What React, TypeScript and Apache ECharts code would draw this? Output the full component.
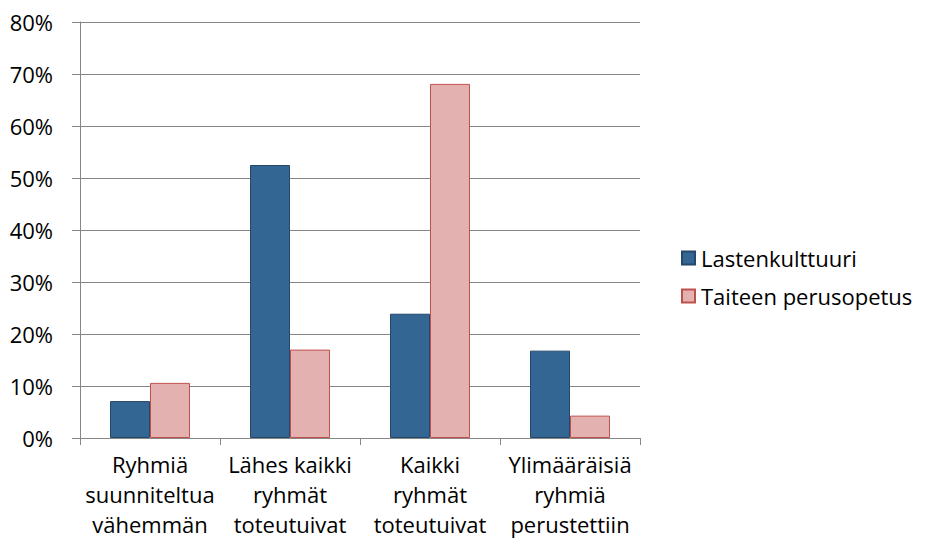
import React, { useEffect, useRef } from "react";
import * as echarts from "echarts";

const categories = [
  "Ryhmiä\nsuunniteltua\nvähemmän",
  "Lähes kaikki\nryhmät\ntoteutuivat",
  "Kaikki\nryhmät\ntoteutuivat",
  "Ylimääräisiä\nryhmiä\nperustettiin",
];
const seriesNames = ["Lastenkulttuuri", "Taiteen perusopetus"];
const lastenkulttuuri = [7.1, 52.5, 23.9, 16.8];
const taiteenPerusopetus = [10.6, 17.0, 68.1, 4.3];

const FONT = "'Open Sans', 'Noto Sans', sans-serif";
const FS = 22;

export default function App() {
  const ref = useRef<HTMLDivElement>(null);
  useEffect(() => {
    if (!ref.current) return;
    const chart = echarts.init(ref.current, undefined, { renderer: "svg" });
    chart.setOption({
      animation: false,
      backgroundColor: "#ffffff",
      textStyle: { fontFamily: FONT },
      grid: { left: 80, right: 289, top: 22, bottom: 109, containLabel: false },
      legend: {
        orient: "vertical",
        left: 676,
        top: 240,
        itemWidth: 13,
        itemHeight: 13,
        itemGap: 12,
        icon: "rect",
        textStyle: {
          fontFamily: FONT,
          fontSize: FS,
          lineHeight: 26,
          color: "#000",
          padding: [0, 0, 0, 1],
        },
        data: seriesNames,
      },
      xAxis: {
        type: "category",
        data: categories,
        axisLine: { lineStyle: { color: "#868686", width: 1 } },
        axisTick: { show: true, length: 7, lineStyle: { color: "#868686" } },
        axisLabel: {
          interval: 0,
          color: "#000",
          fontFamily: FONT,
          fontSize: FS,
          lineHeight: 30,
          margin: 11,
        },
      },
      yAxis: {
        type: "value",
        min: 0,
        max: 80,
        interval: 10,
        axisLine: { show: true, lineStyle: { color: "#868686", width: 1 } },
        axisTick: { show: true, inside: false, length: 8, lineStyle: { color: "#868686" } },
        splitLine: { lineStyle: { color: "#868686", width: 1 } },
        axisLabel: {
          formatter: "{value}%",
          color: "#000",
          fontFamily: FONT,
          fontSize: FS,
          margin: 27,
        },
      },
      series: [
        {
          name: seriesNames[0],
          type: "bar",
          data: lastenkulttuuri,
          barGap: "0%",
          barCategoryGap: "42.86%",
          itemStyle: { color: "#346693", borderColor: "#25476A", borderWidth: 1 },
        },
        {
          name: seriesNames[1],
          type: "bar",
          data: taiteenPerusopetus,
          barGap: "0%",
          barCategoryGap: "42.86%",
          itemStyle: { color: "#E2B1B0", borderColor: "#C0504D", borderWidth: 1 },
        },
      ],
    });
    return () => chart.dispose();
  }, []);
  return (
    <div
      ref={ref}
      style={{ position: "fixed", left: 0, top: 0, width: 929, height: 547 }}
    />
  );
}
